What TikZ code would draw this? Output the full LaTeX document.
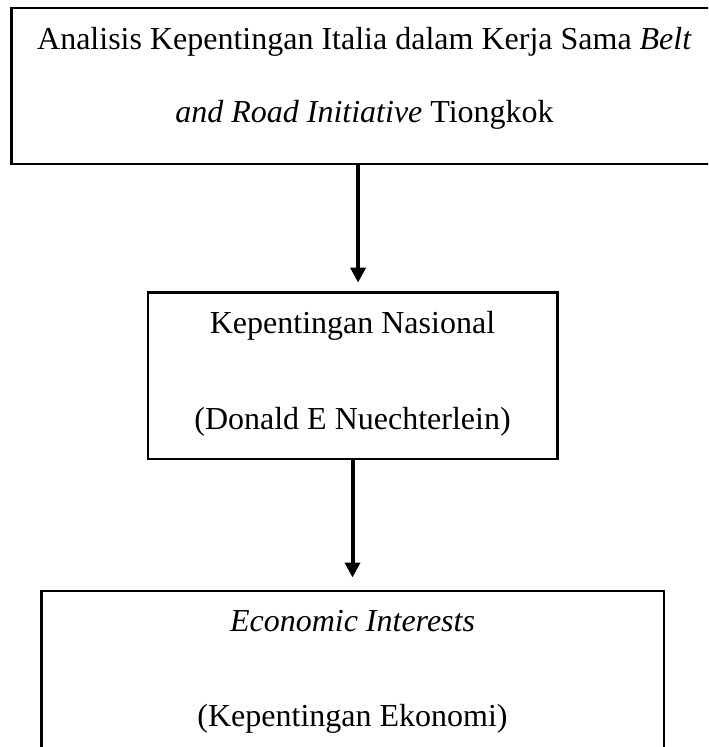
\documentclass[tikz,border=0pt]{standalone}
\usepackage{fontspec}
\setmainfont{Liberation Serif}
\usepackage{tikz}
\usetikzlibrary{arrows.meta, positioning}
\tikzset{
    % Box styles - plain black frames
    framebox/.style={
        rectangle,
        draw=black,
        line width=1.1pt,
        inner sep=0pt
    },
    boxtext/.style={
        anchor=base,
        inner sep=0pt,
        font=\fontsize{12}{14}\selectfont
    },
    % Arrow style - straight lines only
    arrow/.style={
        -{Triangle[width=5.6pt,length=5.6pt]},
        line width=1.5pt,
        draw=black
    }
}
\begin{document}
\begin{tikzpicture}[x=0.375pt, y=-0.375pt]
    \clip (0,0) rectangle (708,747);

    % Topic
    \node[framebox, minimum width=265.1pt, minimum height=58.5pt] (analisis) at (364.5,86) {};
    \node[boxtext] (analisis1) at (364.5,49.5) {Analisis Kepentingan Italia dalam Kerja Sama \textit{Belt}};
    \node[boxtext] (analisis2) at (364.5,122.5) {\textit{and Road Initiative} Tiongkok};

    % Theory
    \node[framebox, minimum width=153.4pt, minimum height=62.6pt] (nasional) at (352.5,375.5) {};
    \node[boxtext] (nasional1) at (352.5,333) {Kepentingan Nasional};
    \node[boxtext] (nasional2) at (352.5,429.5) {(Donald E Nuechterlein)};

    % Concept
    \node[framebox, minimum width=233.6pt, minimum height=78.4pt] (ekonomi) at (352.5,695.5) {};
    \node[boxtext] (ekonomi1) at (352.5,631.5) {\textit{Economic Interests}};
    \node[boxtext] (ekonomi2) at (352.5,726.5) {(Kepentingan Ekonomi)};

    \draw[arrow, shorten >=3pt] ([xshift=-2.4pt]analisis.south) -- ([xshift=2.1pt]nasional.north);
    \draw[arrow, shorten >=4.5pt] (nasional.south) -- (ekonomi.north);
\end{tikzpicture}
\end{document}
